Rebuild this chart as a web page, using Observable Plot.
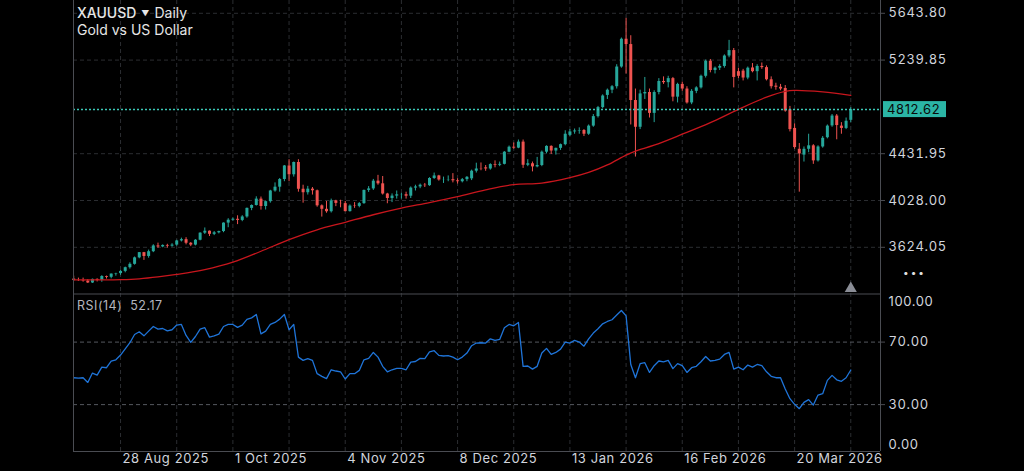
<!DOCTYPE html>
<html>
<head>
<meta charset="utf-8">
<script src="https://cdn.jsdelivr.net/npm/d3@7"></script>
<script src="https://cdn.jsdelivr.net/npm/@observablehq/plot@0.6"></script>
<style>
  html, body { margin: 0; padding: 0; background: #000; }
  #wrap { position: relative; width: 1024px; height: 471px; background: #000; overflow: hidden;
          font-family: Inter, "Noto Sans", sans-serif; }
  #price, #rsi { position: absolute; left: 0; }
  #price { top: 0; }
  #rsi { top: 293px; }
  .lbl { position: absolute; white-space: nowrap; }
  #t1 { left: 77px; top: 4px; font-size: 14px; color: #e6e6e6; }
  #t1 b { font-weight: 500; }
  #t1 .caret { font-size: 8px; margin: 0 5px 0 5px; position: relative; top: -2px; }
  #t2 { left: 77px; top: 21px; font-size: 14px; color: #e6e6e6; }
  #rsiLbl { left: 77px; top: 298px; font-size: 12.5px; color: #b2b5be; letter-spacing: 0.5px; }
  #dots { left: 903px; top: 266px; font-size: 10px; color: #e0e0e0; letter-spacing: 2px; }
</style>
</head>
<body>
<div id="wrap">
  <div id="price"></div>
  <div id="rsi"></div>
  <div class="lbl" id="t1"><b>XAUUSD</b><span class="caret">▼</span>Daily</div>
  <div class="lbl" id="t2">Gold vs US Dollar</div>
  <div class="lbl" id="rsiLbl">RSI(14)&nbsp;&nbsp;52.17</div>
  <div class="lbl" id="dots">•••</div>
</div>
<script>
// ---- Data (daily bars, 14 Aug 2025 -> last bar) ----
const open = [
  3350,3337,3336,3332,3316,3347,3339,3372,3365,3393,
  3397,3416,3448,3477,3533,3578,3545,3586,3636,3627,
  3640,3634,3643,3679,3690,3659,3643,3685,3746,3763,
  3736,3749,3760,3833,3858,3866,3856,3886,3960,3985,
  4040,3976,4018,4110,4143,4209,4326,4250,4356,4125,
  4095,4126,4112,3982,3952,3931,4025,4003,4001,3932,
  3980,3977,4001,4115,4128,4195,4172,4084,4045,4066,
  4077,4078,4065,4135,4145,4160,4156,4218,4240,4205,
  4206,4208,4198,4190,4208,4215,4281,4300,4310,4300,
  4338,4332,4340,4445,4488,4480,4532,4332,4345,4318,
  4330,4445,4495,4455,4478,4510,4590,4620,4628,4632,
  4600,4670,4752,4830,4935,4980,5010,5180,5420,5374,
  4891,4660,4948,4960,4780,4960,5055,5045,5080,4920,
  5030,4990,4870,4970,5000,5100,5230,5150,5170,5185,
  5275,5322,5140,5145,5085,5172,5140,5185,5175,5070,
  5015,5005,4995,4810,4650,4470,4420,4470,4500,4370,
  4490,4570,4672,4757,4670,4650,4720
];
const high = [
  3375,3358,3358,3345,3350,3352,3379,3376,3394,3400,
  3423,3453,3490,3540,3579,3580,3600,3646,3660,3645,
  3650,3655,3685,3703,3707,3665,3690,3750,3791,3765,
  3760,3763,3835,3871,3876,3896,3897,3963,3990,4060,
  4058,4022,4116,4180,4218,4330,4380,4360,4380,4160,
  4150,4140,4118,3990,4020,4040,4030,4030,4020,3990,
  4010,4010,4118,4148,4210,4245,4235,4090,4085,4110,
  4090,4100,4145,4160,4170,4175,4225,4265,4245,4230,
  4240,4260,4215,4218,4235,4290,4350,4352,4330,4345,
  4370,4360,4450,4498,4525,4550,4550,4380,4360,4400,
  4455,4500,4500,4480,4515,4630,4640,4645,4655,4640,
  4680,4770,4840,4940,4990,5020,5200,5430,5600,5450,
  4990,4980,5090,4990,4975,5080,5095,5100,5090,5040,
  5050,5010,4985,5010,5110,5240,5245,5180,5200,5285,
  5410,5340,5170,5160,5180,5210,5200,5215,5190,5095,
  5040,5030,5020,4840,4690,4520,4490,4600,4510,4500,
  4580,4680,4770,4770,4700,4740,4830
];
const low = [
  3330,3330,3323,3312,3312,3325,3322,3350,3352,3375,
  3382,3404,3436,3470,3525,3511,3530,3578,3615,3620,
  3617,3625,3634,3670,3645,3630,3636,3680,3735,3717,
  3725,3740,3750,3793,3850,3820,3845,3875,3940,3980,
  3945,3946,4005,4100,4100,4190,4190,4230,4100,4005,
  4075,4075,3970,3885,3918,3920,3975,3965,3930,3928,
  3960,3965,3995,4098,4115,4160,4075,4000,4010,4040,
  4040,4040,4045,4110,4130,4140,4150,4210,4195,4175,
  4190,4180,4170,4180,4190,4200,4265,4285,4280,4290,
  4310,4320,4335,4440,4470,4475,4305,4320,4275,4310,
  4320,4430,4425,4420,4460,4500,4580,4600,4600,4580,
  4590,4660,4740,4820,4900,4950,4990,5170,5120,4680,
  4403,4640,4900,4740,4700,4940,5030,5000,4880,4870,
  4970,4860,4855,4950,4990,5085,5130,5120,5150,5170,
  5260,5000,5080,5060,5070,5130,5060,5160,5060,4990,
  4980,4975,4790,4620,4470,4100,4360,4440,4340,4360,
  4480,4560,4660,4552,4600,4640,4700
];
const close = [
  3337,3336,3332,3316,3347,3339,3372,3365,3393,3397,
  3416,3448,3477,3533,3578,3545,3586,3636,3627,3640,
  3634,3643,3679,3690,3659,3643,3685,3746,3763,3736,
  3749,3760,3833,3858,3866,3856,3886,3960,3985,4040,
  3976,4018,4110,4143,4209,4326,4250,4356,4125,4095,
  4126,4112,3982,3952,3931,4025,4003,4001,3932,3980,
  3977,4001,4115,4128,4195,4172,4084,4045,4066,4077,
  4078,4065,4135,4145,4160,4156,4218,4240,4205,4206,
  4208,4198,4190,4208,4228,4281,4300,4298,4300,4338,
  4332,4340,4445,4488,4480,4532,4332,4345,4318,4330,
  4445,4495,4455,4478,4510,4600,4620,4628,4632,4600,
  4670,4752,4830,4930,4980,5010,5180,5420,5374,4891,
  4660,4948,4960,4780,4960,5055,5045,5080,4920,5030,
  4990,4870,4970,5000,5100,5230,5150,5170,5185,5275,
  5322,5090,5100,5085,5170,5140,5185,5175,5070,5010,
  5005,4990,4800,4640,4485,4430,4470,4500,4370,4490,
  4565,4670,4757,4675,4650,4712,4812.62
];
// RSI(14), one value per bar
const rsi = [
  47.2,47.0,47.2,44.2,50.2,48.9,54.0,53.6,57.9,58.7,
  61.7,65.7,69.6,74.9,76.6,74.0,77.0,80.0,78.3,78.7,
  77.2,77.9,80.9,81.3,74.3,69.8,73.6,78.3,79.2,73.2,
  74.0,75.1,80.0,81.3,81.3,79.4,80.9,84.5,85.5,87.7,
  75.3,77.0,81.3,82.6,84.7,87.7,77.9,81.3,60.4,58.3,
  59.4,58.3,49.8,48.1,46.6,52.3,51.5,51.0,46.4,49.8,
  49.8,51.9,58.7,59.6,63.4,60.4,54.5,51.0,52.3,53.2,
  53.2,52.3,57.2,57.6,59.6,59.4,63.8,64.5,61.5,61.1,
  61.3,60.4,58.7,60.4,63.0,67.7,69.4,69.6,69.4,72.1,
  71.1,71.7,79.2,81.3,80.4,82.6,54.5,54.7,52.7,54.5,
  63.0,66.0,62.1,63.4,65.5,70.0,69.4,71.1,70.0,67.4,
  72.1,75.8,78.5,81.7,83.2,84.3,87.3,90.2,86.8,55.7,
  47.2,56.2,56.8,50.6,54.9,57.9,57.4,58.3,53.0,56.2,
  54.9,50.6,53.6,54.5,57.4,60.8,57.9,58.3,59.1,62.1,
  63.4,52.7,54.0,52.3,55.3,54.0,55.7,54.9,51.0,48.1,
  47.2,47.2,40.0,33.8,30.2,27.4,31.4,33.2,29.7,36.1,
  37.0,45.5,48.7,45.9,44.9,47.2,52.17
];
// Moving average (red line), read at these bar indexes
const maIndex = [0, 6, 10, 14, 18, 22, 28, 34, 40, 46, 52, 58, 64, 70, 76, 82, 88, 94, 100, 106, 110, 114, 118, 120, 124, 130, 136, 142, 148, 152, 154, 160, 166];
const maValue = [3343, 3343, 3345, 3352, 3368, 3390, 3432, 3496, 3590, 3690, 3775, 3840, 3905, 3962, 4010, 4062, 4120, 4165, 4178, 4225, 4270, 4335, 4420, 4455, 4505, 4600, 4700, 4815, 4920, 4970, 4978, 4965, 4935];
// Axis ticks / labels
const priceTicks = [5643.80, 5239.85, 4431.95, 4028.00, 3624.05];
const rsiTicks = [70, 30];
const rsiEdgeTicks = [100, 0];
const dateLabels = ["28 Aug 2025", "1 Oct 2025", "4 Nov 2025", "8 Dec 2025", "13 Jan 2026", "16 Feb 2026", "20 Mar 2026"];
const dateIndex = [10, 34, 58, 82, 106, 130, 154];
const gridIndex = [10, 22, 34, 46, 58, 70, 82, 94, 106, 118, 130, 142, 154, 166];

// ---- Styling ----
const UP = "#26a69a", DOWN = "#ef5350", TEAL = "#2bb5a5";
const GRID = "#2b2d31", AXIS = "#4a4c52", TXT = "#d1d4dc";
const FONT = "Inter, 'Noto Sans', sans-serif";
const xDomain = [-0.05, 172.35];
const lastClose = close[close.length - 1];

const bars = close.map((c, i) => ({i, o: open[i], h: high[i], l: low[i], c, col: c >= open[i] ? UP : DOWN}));
const ma = maIndex.map((i, j) => ({i, v: maValue[j]}));
const rsiData = rsi.map((v, i) => ({i, v}));

const price = Plot.plot({
  width: 1024, height: 293,
  marginLeft: 73, marginRight: 144, marginTop: 0, marginBottom: 0,
  style: {background: "transparent", color: TXT, fontFamily: FONT, fontSize: "13px", letterSpacing: "0.6px", overflow: "visible"},
  x: {domain: xDomain, axis: null},
  y: {domain: [3225.3, 5754.2], axis: null},
  marks: [
    Plot.ruleY(priceTicks, {stroke: GRID, strokeDasharray: "4,3"}),
    Plot.ruleX(gridIndex, {stroke: GRID, strokeDasharray: "4,3"}),
    Plot.ruleX(bars, {x: "i", y1: "l", y2: "h", stroke: "col", strokeWidth: 1}),
    Plot.ruleX(bars, {x: "i", y1: "o", y2: "c", stroke: "col", strokeWidth: 3}),
    Plot.line(ma, {x: "i", y: "v", stroke: "#c8161d", strokeWidth: 1.3, curve: "catmull-rom"}),
    Plot.ruleY([lastClose], {stroke: "#3cc8b6", strokeDasharray: "2,2", strokeWidth: 1.5}),
    Plot.ruleX([xDomain[0]], {stroke: AXIS}),
    Plot.ruleX([xDomain[1]], {stroke: AXIS}),
    Plot.axisY(priceTicks, {anchor: "right", tickSize: 4, tickPadding: 4, stroke: AXIS, fill: TXT,
      tickFormat: d => d.toFixed(2), label: null, fontSize: 13}),
    Plot.dot([close.length - 1], {x: d => d, frameAnchor: "bottom", dy: -5, symbol: "triangle", r: 4.5, fill: "#8a8d96", stroke: "none"})
  ]
});
document.getElementById("price").appendChild(price);

// current price tag (position from the plot's own scales)
{
  const ys = price.scale("y").apply(lastClose);
  const xs = price.scale("x").apply(xDomain[1]);
  const g = d3.select(price).append("g").attr("text-anchor", "start");
  g.append("rect").attr("x", xs + 3).attr("y", ys - 8).attr("width", 63).attr("height", 16).attr("fill", TEAL);
  g.append("text").attr("x", xs + 7).attr("y", ys).attr("dy", "0.36em").attr("text-anchor", "start")
    .attr("fill", "#0a0a0a").attr("font-size", 13).attr("font-family", FONT).text(lastClose.toFixed(2));
}

const rsiChart = Plot.plot({
  width: 1024, height: 178,
  marginLeft: 73, marginRight: 144, marginTop: 0, marginBottom: 20,
  style: {background: "transparent", color: TXT, fontFamily: FONT, fontSize: "13px", letterSpacing: "0.6px", overflow: "visible"},
  x: {domain: xDomain, axis: null},
  y: {domain: [0, 101.1], axis: null},
  marks: [
    Plot.ruleX(gridIndex, {stroke: GRID, strokeDasharray: "4,3"}),
    Plot.ruleY(rsiTicks, {stroke: "#55585f", strokeDasharray: "4,3"}),
    Plot.line(rsiData, {x: "i", y: "v", stroke: "#1f74d8", strokeWidth: 1.3}),
    Plot.ruleX([xDomain[0]], {stroke: AXIS}),
    Plot.ruleX([xDomain[1]], {stroke: AXIS}),
    Plot.ruleY([0], {stroke: AXIS}),
    Plot.ruleY([101.1], {stroke: AXIS, dy: 0.5}),
    Plot.axisY(rsiTicks, {anchor: "right", tickSize: 4, tickPadding: 4, stroke: AXIS, fill: TXT,
      tickFormat: d => d.toFixed(2), label: null, fontSize: 13}),
    Plot.text([rsiEdgeTicks[0]], {y: d => d, frameAnchor: "right", dx: 8, dy: 7, textAnchor: "start", text: d => d.toFixed(2), fill: TXT, fontSize: 13}),
    Plot.text([rsiEdgeTicks[1]], {y: d => d, frameAnchor: "right", dx: 8, dy: -7, textAnchor: "start", text: d => d.toFixed(2), fill: TXT, fontSize: 13}),
    Plot.text(dateIndex, {x: d => d, text: (d, j) => dateLabels[j], frameAnchor: "bottom", dy: 11, dx: 2, textAnchor: "start", fill: TXT, fontSize: 13})
  ]
});
document.getElementById("rsi").appendChild(rsiChart);
</script>
</body>
</html>
